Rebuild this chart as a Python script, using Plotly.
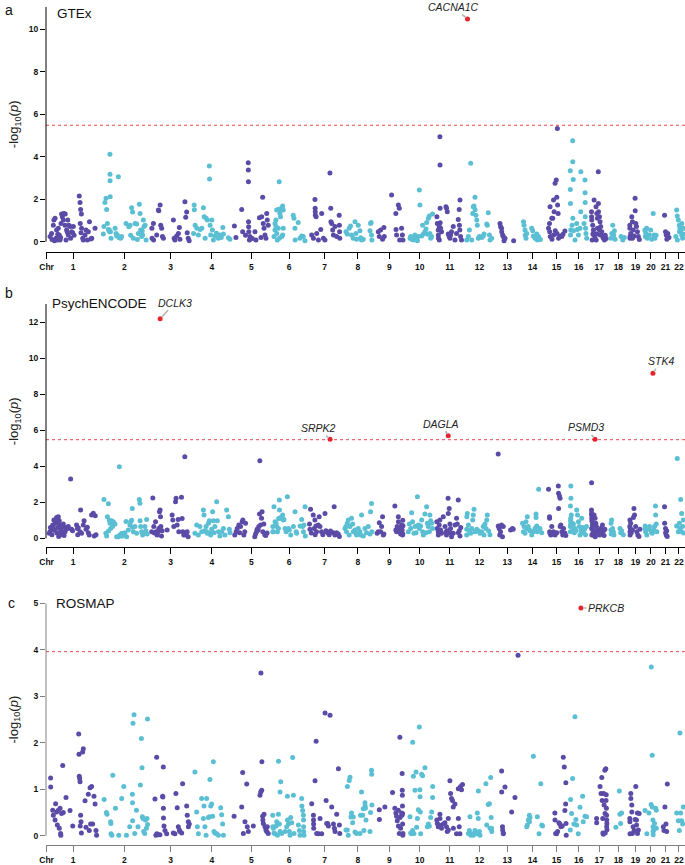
import plotly.graph_objects as go

# ---------------- data ----------------
CHR_LABELS = [str(i) for i in range(1, 23)]
CHR_LEN_MB = [249.3, 243.2, 198.0, 191.2, 180.9, 171.1, 159.1, 146.4, 141.2, 135.5, 135.0,
              133.9, 115.2, 107.3, 102.5, 90.4, 81.2, 78.1, 59.1, 63.0, 48.1, 51.3]
GAP_MB = 20

# (position in Mb within chromosome, -log10 p) per chromosome 1..22
GTEX_BY_CHR = [
    [(5,0.24),(13,0.39),(15,0.10),(22,0.78),(25,1.02),(28,0.05),(31,1.10),(36,0.16),(39,0.55),(43,0.08),(45,0.35),(48,0.63),(53,0.31),(57,0.08),(60,0.20),(62,0.86),(65,1.30),(69,1.18),(74,1.02),(77,1.33),(83,0.78),(84,1.30),(88,0.08),(91,0.55),(95,0.45),(97,1.02),(100,0.31),(103,0.78),(109,0.71),(112,0.16),(117,0.47),(123,0.42),(126,0.71),(130,0.30),(157,2.15),(161,1.84),(162,0.86),(164,1.52),(166,0.42),(168,1.30),(169,0.63),(175,0.16),(178,0.08),(187,0.31),(192,0.55),(199,0.08),(204,0.47),(210,0.94),(217,0.13),(222,0.16),(239,0.63)],
    [(13,0.36),(16,0.71),(21,1.85),(27,2.04),(30,1.52),(34,0.86),(39,0.58),(44,0.55),(45,0.47),(47,4.11),(47.5,3.17),(48,2.87),(48.5,2.12),(50,0.47),(53,0.16),(74,0.63),(79,0.39),(82,0.27),(86,0.31),(91,3.06),(96,0.19),(103,0.16),(108,0.24),(131,0.86),(145,0.70),(152,0.78),(155,0.30),(160,1.60),(165,1.40),(169,0.16),(178,0.86),(186,0.83),(190,0.10),(195,0.39),(200,1.76),(204,1.33),(207,0.55),(212,0.24),(215,0.50),(217,0.31),(221,1.02),(224,0.71),(230,0.78),(235,0.08)],
    [(2,0.63),(3,0.16),(10,0.86),(11,0.08),(27,0.31),(36,1.49),(38,1.46),(45,1.73),(48,0.78),(53,0.63),(57,0.24),(62,0.16),(114,1.02),(118,0.16),(122,0.08),(131,0.27),(140,0.39),(145,0.67),(148,0.11),(174,1.88),(178,1.15),(183,1.40),(186,0.42),(191,0.16),(196,0.05)],
    [(1,0.39),(4,1.73),(5,1.50),(9,0.78),(18,0.63),(26,0.31),(35,0.58),(44,0.63),(52,1.60),(56,1.18),(61,0.16),(66,1.10),(73,1.02),(83,3.56),(84,2.95),(87,0.78),(90,0.31),(96,1.02),(99,0.55),(104,0.08),(113,0.27),(120,0.40),(130,0.16),(139,0.31),(145,0.20),(153,0.67),(156,0.36),(182,0.19),(190,0.11)],
    [(2,0.74),(10,0.20),(40,1.52),(45,0.47),(60,0.30),(74,3.72),(74.5,3.37),(75,2.82),(75.5,0.94),(76,0.70),(77,0.47),(80,0.08),(83,0.24),(95,0.15),(109,0.47),(114,0.08),(132,1.13),(140,0.20),(144,1.18),(149,2.09),(152,0.86),(156,0.63),(161,0.31),(166,0.16),(170,1.33),(173,1.02),(178,0.78)],
    [(7,0.24),(12,0.55),(12.5,0.86),(17,1.02),(17.5,0.71),(21,1.49),(21.5,0.39),(24,0.08),(29,1.52),(29.5,0.63),(34,2.82),(34.5,1.49),(35,0.16),(38,1.33),(41,1.18),(47,1.60),(47.5,0.24),(52,1.68),(52.5,0.31),(55,1.49),(55.5,0.63),(107,1.25),(111,1.10),(116,0.63),(117,0.08),(133,0.90),(142,0.16),(151,0.27),(159,0.24),(168,0.05)],
    [(12,0.31),(21,0.16),(29,1.99),(30,1.57),(30.5,1.41),(31,1.25),(35,1.18),(38,0.39),(47,0.08),(59,0.58),(64,1.33),(73,0.16),(81,0.08),(107,3.23),(111,1.57),(112,0.94),(116,0.86),(121,0.55),(125,0.31),(133,0.71),(142,0.24),(155,1.25),(156,0.78),(157,0.47),(158,0.16)],
    [(11,0.47),(18,0.36),(28,0.63),(35,0.74),(40,0.31),(49,0.16),(58,0.94),(63,0.39),(66,0.11),(75,0.78),(84,0.52),(87,0.19),(92,0.08),(101,0.11),(136,0.52),(139,0.86),(142,0.90),(144,0.31),(146,0.08)],
    [(13,0.47),(18,0.24),(25,0.55),(35,0.11),(42,0.67),(44,0.24),(82,2.20),(104,1.33),(105,0.58),(108,0.31),(117,1.73),(122,1.57),(124,0.08),(134,0.63),(138,0.31),(141,0.08)],
    [(17,0.16),(20,0.24),(25,0.11),(30,0.16),(34,0.08),(42,0.31),(48,0.16),(55,0.05),(60,0.24),(65,2.43),(68,1.73),(77,0.27),(82,0.78),(86,0.36),(94,0.47),(100,0.60),(103,0.90),(108,0.35),(112,1.10),(117,1.21),(120,0.39),(124,0.16),(129,0.24),(134,1.30)],
    [(1,1.18),(3,0.86),(8,0.55),(8.5,0.31),(9,0.16),(13,0.71),(13.5,0.08),(16.6,4.94),(17,3.61),(17.5,1.57),(18,0.89),(20,0.63),(25,0.47),(48,1.65),(51,1.57),(55,1.41),(60,0.36),(65,0.24),(69,0.16),(72,0.31),(77,0.47),(86,0.71),(95,0.08),(103,0.39),(112,1.05),(117,1.52),(118,0.78),(120,0.55),(121,1.96),(124,0.24),(129,0.08)],
    [(1,0.08),(9.5,0.24),(15,0.55),(21.6,3.69),(27,0.08),(32,1.33),(35,1.65),(39,1.68),(44,2.09),(44.5,1.50),(49,1.25),(53,1.02),(56,0.78),(61,0.16),(67,0.24),(79,0.20),(87,0.27),(91,0.36),(105,0.83),(108,0.78),(113,1.36),(119,0.31),(122,0.08),(131,0.16)],
    [(20,0.86),(23,0.71),(28,0.63),(29,0.47),(34,0.31),(37,0.24),(41,0.05),(46,0.16),(91,0.05)],
    [(7,0.94),(10,0.78),(15,0.55),(16,0.31),(20,0.16),(24,0.39),(50,0.63),(55,0.52),(58,0.27),(67,0.16),(76,0.36),(79,0.08),(85,0.24),(95,0.10)],
    [(10,0.63),(15,0.86),(16,0.47),(18,1.65),(19,0.24),(27,1.10),(28,0.11),(32,1.10),(36,1.96),(36.5,0.31),(39,1.41),(44,2.75),(45,0.52),(50,2.90),(53,2.09),(54,0.39),(56,5.33),(57,1.73),(60,1.33),(62,0.16),(70,0.27),(79,0.24),(85,0.35),(95,0.50)],
    [(0.5,3.34),(1,2.46),(1.5,1.80),(2,0.31),(3,0.55),(10,0.78),(13,4.75),(13.5,3.76),(14,1.10),(16,2.93),(17,0.52),(25,0.08),(34,0.86),(37,0.58),(43,0.31),(51,0.63),(55,1.41),(55.5,3.29),(72,0.86),(77,2.90),(77.5,2.30),(78,1.84),(78.5,1.18),(80,0.63),(82,0.39),(86,0.16)],
    [(0.5,1.41),(1,1.18),(1.7,1.02),(4,0.08),(6.9,0.78),(8,0.36),(10.4,0.55),(13.9,0.31),(14,1.96),(19,0.16),(21,0.36),(24,1.65),(25,0.08),(28,1.33),(29,0.36),(31,1.10),(31.5,0.63),(36,3.29),(36.5,1.80),(37,1.41),(42,1.18),(42.5,0.55),(45,0.94),(46,0.31),(48.5,0.71),(54,0.47),(59,0.24),(62,0.16),(68,0.08),(72,0.30),(77,0.15)],
    [(1,0.16),(4.7,0.39),(10,0.78),(15,0.31),(18.5,0.52),(22,0.11),(53,0.24),(62,0.08),(70,0.20)],
    [(0.5,0.78),(1,0.63),(1.5,0.16),(2,0.24),(5.6,0.39),(10.8,1.18),(14,0.94),(14.5,0.16),(18,0.55),(23,0.27),(28,2.04),(28.5,1.46),(31.5,0.86),(35,0.71),(40,0.47),(45,0.24),(50,0.10)],
    [(0.5,0.55),(1,0.52),(2,0.24),(5,0.39),(8.7,0.63),(12,0.16),(22.5,0.31),(29.5,0.55),(35,0.11),(43,1.33),(47,0.31),(52,0.16),(58,0.30)],
    [(19,1.25),(24,0.47),(27.6,0.31),(31,0.11),(36,0.39),(42,0.20)],
    [(10,0.24),(14,1.49),(17,1.21),(17.5,0.08),(22.5,1.02),(28,0.78),(28.5,0.47),(31,0.63),(35,0.52),(40,0.31),(40.5,0.86),(45,0.16),(48.5,0.36),(49,0.63)],
]

PSYCH_BY_CHR = [
    [(1,0.28),(5,0.37),(7,0.60),(13,0.55),(15,0.20),(19,0.74),(22,0.68),(25,1.02),(28,0.45),(31,0.46),(34,0.90),(36,0.83),(39,1.16),(41,0.30),(43,1.10),(46,0.60),(48,1.20),(50,0.10),(53,0.98),(57,0.74),(60,0.46),(62,0.20),(65,0.37),(71,0.61),(74,0.79),(78,0.15),(83,0.37),(88,0.50),(91,0.61),(97,0.55),(100,0.65),(112,3.29),(117,0.50),(122,0.42),(143,0.74),(147,0.55),(149,0.20),(152,0.58),(161,0.37),(164,1.57),(169,0.28),(178,0.74),(182,0.98),(192,0.50),(199,0.61),(204,0.31),(209,0.18),(221,1.29),(230,1.39),(235,0.13),(240,1.25),(244,0.20)],
    [(16,2.16),(26,0.28),(30,0.13),(34,1.20),(39,1.92),(40,0.40),(44,1.00),(47.5,0.83),(51,0.55),(56,0.98),(61,0.65),(65,0.92),(73.5,0.79),(82,0.09),(91,0.09),(96,3.98),(99,0.18),(103,0.13),(108,0.28),(113,0.13),(125,0.31),(130.5,0.94),(134,0.09),(143,0.46),(151,0.74),(155,0.92),(160,1.00),(163.5,1.65),(165,0.61),(169,0.37),(177,0.65),(186,0.28),(200,2.15),(203,1.95),(204,0.98),(207,0.65),(212,0.37),(217,0.18),(221,0.28),(229,0.65),(234,0.42),(238,1.05),(241,0.24)],
    [(1,0.37),(7,2.24),(12,0.65),(15,0.30),(21,0.92),(24,0.37),(29.5,0.18),(35,0.37),(38,0.55),(41.6,1.48),(45,1.57),(47,1.20),(48.5,0.65),(52,0.13),(55.5,0.42),(81.5,0.46),(107.5,1.29),(111,1.02),(116,0.65),(125,2.03),(128,2.22),(133.5,0.74),(139,1.05),(142,0.37),(156,2.28),(159.5,1.10),(163,0.37),(168,0.18),(173.4,4.53),(177,0.28),(180,0.18),(185.5,0.37),(190.7,0.09)],
    [(8,0.28),(17,0.74),(26,0.18),(34,0.65),(43,0.37),(52,1.57),(55,1.29),(57,0.40),(60,0.42),(66,0.65),(69,0.37),(72.5,0.28),(78,0.83),(83,0.98),(86,0.28),(90,0.18),(95,0.50),(100,1.48),(104,0.98),(107,0.31),(112,0.65),(121,2.03),(124.5,0.98),(130,0.37),(138,0.13),(147,0.37),(156,0.55),(164,0.18),(173,1.57),(182,1.20),(187,0.50),(190,0.31)],
    [(4,0.18),(11,0.37),(16.5,0.55),(25,0.74),(29,0.31),(34,0.65),(42.5,0.92),(46,1.02),(51,0.18),(56,0.37),(60,0.83),(108,0.09),(112,0.24),(117,0.37),(120,0.50),(126,0.46),(129,0.65),(132.6,1.35),(134.3,4.31),(138,0.74),(143,1.11),(146,1.48),(150,0.37),(155,0.80),(160,0.20),(165,0.15),(172,0.30)],
    [(0.5,0.37),(1,0.65),(4,0.37),(7,1.75),(12.5,0.92),(18,0.83),(21,0.65),(25,0.37),(30,0.55),(31,1.10),(35,2.13),(35.5,1.57),(38.5,1.11),(42,1.16),(47,1.11),(52,1.29),(56,1.02),(59,1.05),(64.5,0.55),(70,0.37),(76.6,2.31),(82,0.55),(87,0.46),(94,0.18),(108,0.65),(116.5,1.48),(122,0.37),(125,0.28),(142.5,0.68),(151,1.05),(156,0.65),(160,0.37),(163,0.74),(168.5,1.75),(170,0.13)],
    [(0.5,0.80),(3,0.50),(6,1.62),(10,0.30),(20,1.29),(25,0.55),(28.6,1.02),(30,0.20),(34,0.68),(37,0.37),(46,0.74),(51,1.20),(55,0.65),(63,0.37),(70,0.20),(81,1.38),(86,0.42),(89,0.37),(98,0.28),(103,0.20),(110,0.40),(124,0.31),(129,1.76),(132.6,0.18),(141,0.31),(150,0.24),(156,0.10)],
    [(6,0.55),(11,0.65),(14,0.37),(18,0.83),(23,1.02),(28,0.18),(32,0.65),(40,1.11),(46,0.79),(49,0.37),(58,0.46),(63,0.28),(66,0.18),(75,0.55),(84,0.37),(87,0.18),(92,1.29),(101,0.13),(110,0.55),(118,0.31),(127,0.65),(136,0.24),(139,1.48),(144,1.94),(146,0.37)],
    [(7,0.28),(12.6,0.37),(18,0.87),(25,0.37),(30,0.65),(35,1.20),(38.6,0.18),(42,0.24),(99,1.79),(104,0.46),(108,0.37),(111,0.65),(117,1.20),(117.5,0.92),(122,0.55),(125,0.37),(129,0.24),(134,0.74),(137,0.46),(139,0.18),(140,1.00),(140.5,0.24),(141,0.70)],
    [(8,0.37),(13,0.79),(20,0.55),(25,1.42),(30,0.92),(37,0.28),(42.5,0.65),(48,0.31),(55,2.31),(60,0.74),(65,0.55),(72,0.68),(77,1.02),(82,0.37),(86,0.18),(94,1.35),(100,0.31),(103,1.75),(107,0.83),(112,0.65),(117,0.37),(120,1.29),(124,0.98),(129,0.83),(134,0.55)],
    [(0.5,0.92),(3,0.55),(8,0.37),(8.5,0.18),(13,0.74),(16.6,1.02),(20,0.46),(25,0.28),(34,1.20),(43,0.65),(48,0.37),(51,0.18),(55,0.42),(59,2.22),(60,1.38),(65,1.66),(68.6,0.79),(69,0.31),(72,0.55),(77,0.09),(86,0.28),(95,0.74),(103,1.11),(107,0.79),(112,2.13),(112.5,0.31),(117,0.42),(121,0.13),(125,0.60)],
    [(0.5,0.18),(1,0.50),(1.5,1.20),(4,1.38),(9.5,0.74),(15,0.42),(22,0.28),(27,0.55),(32,1.02),(35,1.29),(39,1.61),(44,0.37),(53,0.50),(61,0.42),(70,0.28),(79,0.37),(87,0.65),(91,0.18),(96,0.79),(101,0.55),(105,1.02),(108,1.29),(115,0.40),(122,0.20)],
    [(10.7,4.68),(11,0.68),(16,0.55),(19,0.18),(23,0.37),(28,0.74),(33,0.09),(37,0.65),(75,0.46),(85,0.55),(89,0.50)],
    [(2,0.83),(6.6,0.37),(10,0.65),(15,0.28),(20,0.92),(24,0.55),(27,1.20),(32,0.65),(38,0.46),(41,0.42),(50,0.18),(58,0.37),(67,0.55),(72,1.35),(72.5,1.16),(76,0.68),(79,0.37),(86,2.72),(93,0.55),(102,0.31)],
    [(10,2.72),(15,1.20),(15.5,1.11),(16,0.37),(18,0.28),(22,0.18),(27,0.65),(36,0.37),(44,0.18),(53,0.31),(61,2.90),(62,2.50),(62.5,1.66),(67,2.35),(70,2.22),(70.5,0.65),(74,0.74),(79,0.37),(84,0.18),(88,0.55),(95,0.30),(100,0.15)],
    [(0.5,0.37),(1,0.65),(1.5,1.79),(2,0.98),(2.5,0.79),(3,1.11),(3.5,2.90),(4,2.22),(6,1.29),(10,0.83),(14,0.55),(17,0.79),(22,0.31),(25,0.55),(30,0.42),(34,1.57),(38,1.29),(43,0.92),(48,0.65),(51,0.18),(56,0.42),(60,1.11),(65,0.60),(70,0.30),(75,0.50),(80,0.20),(85,0.65)],
    [(0.5,1.57),(0.8,1.29),(1,3.09),(1.2,1.39),(1.5,0.55),(2,1.11),(2.5,0.18),(3,0.98),(4,0.92),(5,0.74),(6,0.50),(8,0.28),(9,0.18),(10,0.37),(14,1.29),(14.5,0.31),(19,1.11),(19.5,0.09),(23,0.83),(26,0.65),(27,0.37),(31.5,0.46),(32,0.20),(37,0.24),(40,0.37),(43.6,0.18),(49,0.55),(54,0.28),(57.5,0.74),(62,0.40),(66,0.15),(70,0.50)],
    [(0.5,0.46),(1,0.83),(2,0.24),(4,1.02),(9,0.55),(13,0.37),(16,0.18),(47.5,0.55),(51,0.31),(56,0.42),(65,0.20)],
    [(0.5,0.65),(1,1.02),(1.5,0.37),(2,0.18),(3,0.55),(5,0.83),(8,0.31),(14,0.46),(19,1.16),(22,1.66),(25,1.29),(31,0.65),(37,0.37),(42,0.18),(48,0.10),(53,0.50)],
    [(0.5,0.55),(1,0.68),(3.5,0.37),(10,0.18),(21,0.50),(24,0.65),(33,0.37),(38,0.28),(45,0.46),(50,0.65),(55,1.79),(55.5,1.29),(59,0.79),(62,0.37)],
    [(19,1.75),(19.5,0.83),(24,0.55),(24.5,0.31),(27.6,0.18),(30,0.42),(33,0.10)],
    [(14,0.68),(17,4.44),(22.5,0.37),(28,0.83),(31,0.55),(35,2.16),(40,1.38),(40.5,0.37),(45,0.65),(48.5,1.02),(50,0.30)],
]

ROSMAP_BY_CHR = [
    [(8,1.24),(8.5,1.05),(19,0.55),(22,0.44),(31,0.34),(34,0.69),(39,0.51),(43,0.23),(48,0.55),(53,0.16),(57,0.59),(60,0.05),(61,0.01),(65,0.48),(71,1.51),(74,0.50),(88,0.82),(109,0.54),(123,0.21),(154,2.19),(155.5,1.75),(157,1.28),(159,1.23),(161,1.16),(162,0.21),(164,0.44),(166,0.30),(168,0.06),(174.5,1.80),(178,1.87),(187,0.75),(192,0.18),(204,0.89),(209,0.11),(213,1.03),(216,0.25),(221,1.06),(226.5,0.25),(233.5,0.85),(239,0.68),(244,0.11),(247,0.01)],
    [(17,0.78),(29,0.50),(32,0.46),(51,0.30),(52,0.26),(53,0.04),(57,0.01),(62,1.30),(76,0.59),(93,0.01),(108.5,0.80),(119,1.06),(133,0.01),(150,0.19),(164,0.89),(164.5,0.71),(165,0.32),(167,2.42),(172.6,2.60),(176,0.05),(185,0.55),(193,0.19),(205.5,1.09),(210.7,2.09),(214,1.46),(216,0.41),(219,0.37),(223,0.09),(228,0.05),(231.5,0.34),(236.7,0.16),(240,0.37),(242.5,2.51),(243,0.24)],
    [(18,0.79),(23,0.01),(27,1.69),(28,0.04),(36,0.02),(44,0.02),(58,0.85),(59,0.83),(61.5,1.48),(62,0.59),(62.5,0.38),(65,0.21),(70,0.11),(79,0.04),(113.5,0.06),(122,0.04),(127,0.91),(134,0.60),(139.5,0.19),(145,0.12),(148,0.09),(157,0.06),(162,1.12),(183,0.64),(186,0.44),(191.5,0.30),(192,0.19),(196.7,0.25)],
    [(8,1.37),(17,0.51),(20.5,0.19),(26,0.04),(43,0.80),(52,0.37),(55,0.64),(60,0.19),(66,0.01),(69,0.80),(78,0.39),(83,0.41),(86,1.21),(90,0.64),(95,0.68),(100,0.42),(104,1.59),(107,0.09),(112,0.06),(121,0.04),(130,0.01),(142,0.60),(147,0.45),(152,0.25),(156,0.01)],
    [(0.5,0.42),(40,0.62),(45,1.36),(48.5,0.05),(57,0.30),(66,1.11),(69,0.19),(74.5,0.09),(100.5,0.21),(135,0.87),(139,0.94),(140,3.50),(144,0.98),(145,1.59),(149,0.42),(150,0.34),(152.5,0.26),(156,0.46),(161,0.19),(166,0.12),(170,0.09),(173,0.19),(178,0.05)],
    [(0.5,0.44),(1,0.19),(4,0.16),(7,0.06),(12.5,0.04),(18,0.21),(21,0.30),(25,0.01),(30,0.46),(30.5,1.60),(35,0.25),(38.5,0.94),(39,0.09),(42,1.16),(47,0.05),(64.5,0.09),(73,0.19),(76.6,0.85),(77,0.34),(82,0.25),(87,0.09),(90.5,0.01),(94,0.39),(99,0.28),(104,1.68),(108,0.87),(111,0.05),(134,0.23),(139,0.11),(142.5,0.01),(151,0.80),(152,0.64),(156,0.54),(160,0.44),(160.5,0.34),(161,0.19),(161.5,0.09),(163,0.01)],
    [(12,0.69),(21,0.44),(21.5,0.34),(22,0.25),(22.5,0.16),(29.5,1.18),(35,2.03),(38,0.05),(47,0.04),(55.5,0.37),(64,0.04),(81.5,2.64),(87,0.76),(90,0.26),(95,0.26),(99,0.21),(107.4,2.59),(116,0.62),(125,0.25),(130,0.16),(133.5,0.09),(142,0.46),(151,1.44),(156,0.23),(158,0.05)],
    [(11,0.12),(18,0.12),(18.5,1.06),(23,0.01),(28,1.19),(32,1.26),(37,0.40),(40,0.49),(46,0.28),(49,0.40),(58,0.08),(66,0.05),(84,0.05),(87,0.44),(92,0.94),(98,0.44),(101,0.58),(104.5,0.11),(110,0.71),(111,0.64),(112,0.59),(115,0.34),(136,0.09),(139,0.50),(144,1.41),(145,1.32),(146,0.66)],
    [(18,0.56),(18.5,0.35),(47,0.62),(87,0.93),(99,0.59),(104.5,0.49),(108,0.42),(111.5,0.32),(117,0.55),(117.5,0.21),(122,0.05),(125,2.12),(126,0.39),(129,0.16),(134,0.49),(136,0.44),(137,1.34),(137.5,0.98),(138,0.87),(138.5,0.64),(139,0.48),(139.5,0.25),(140,0.01),(141,0.05)],
    [(16.6,0.41),(20,0.06),(25,0.04),(30,0.11),(30.5,2.01),(34,1.28),(37,0.05),(42.5,0.98),(48,1.37),(51,0.18),(55,0.37),(60,0.56),(65,2.34),(68,0.99),(69,0.84),(70,0.51),(72,0.04),(77,1.32),(82,1.29),(94,1.46),(107,0.19),(112,0.25),(117,0.21),(124,0.39),(129,0.51),(134,0.82),(134.5,1.06)],
    [(0.5,0.34),(3,0.26),(8,0.19),(13,0.23),(16.6,0.46),(17,0.37),(20,0.21),(25,0.16),(34,0.25),(42.6,0.28),(51,0.19),(55,0.09),(60,0.37),(60.5,0.12),(68.6,1.18),(72,0.91),(77,0.80),(82,0.76),(86,0.62),(86.5,0.16),(94.6,0.68),(103,0.04),(112,1.01),(112.5,0.37),(117,0.19),(120.6,0.04),(124,1.06),(129,0.99),(134,1.10)],
    [(9.5,0.05),(15,0.11),(18,0.41),(22,0.01),(27,0.04),(35,0.01),(44,0.11),(49,0.06),(53,0.04),(56,0.49),(61,0.37),(61.5,0.96),(67,0.09),(70,0.01),(101,1.12),(105,0.23),(113,0.67),(119,0.69),(122,0.16),(125.5,1.25),(128,0.39),(130,0.16),(131,0.09)],
    [(28.6,1.39),(29,0.94),(33,0.19),(34,0.12),(37,0.06),(37.5,0.04),(46,1.05),(80.6,0.51),(98,0.82),(114,3.88)],
    [(24,0.19),(27,0.23),(32.5,0.34),(37.7,0.44),(38,0.30),(41,0.39),(58.5,1.71),(79,0.41),(88,0.04),(97,1.12),(102,0.23),(106,0.21)],
    [(43,0.49),(43.5,0.34),(47,0.05),(52,0.04),(57,0.09),(64,0.28),(69,0.25),(74.5,0.19),(81.5,0.21),(86.7,1.69),(92,1.48),(95,0.54),(99,0.68),(100,1.14),(101,0.26),(102,0.01)],
    [(0.5,0.12),(2.3,0.78),(7.5,0.48),(12.7,1.23),(19.6,0.25),(24.8,2.56),(30,0.35),(33.5,0.23),(42,0.04),(51,0.61),(64.7,0.85),(68,0.30),(77,0.42),(85.5,0.41)],
    [(27,0.37),(27.5,0.28),(45,1.06),(50,0.91),(54,1.25),(56,0.76),(59,0.37),(60,0.06),(62,0.03),(64,0.91),(66,0.66),(70,1.41),(71,0.48),(72,0.06),(75,1.44),(76,0.76),(77,0.88),(78,0.59),(79,0.44),(79.5,0.19),(80,0.34),(80.5,0.26),(81,0.13)],
    [(26,0.18),(44,0.96),(47,0.46),(50.6,0.26),(56,0.49)],
    [(0.5,0.37),(1,0.30),(1.5,0.04),(5.6,0.91),(6,0.80),(10.8,0.66),(11,0.51),(14,0.05),(17.7,0.19),(23,0.11),(28,0.35),(31.5,1.06),(35,0.34),(35.5,0.23),(40,0.49),(40.5,0.05),(45,0.12),(49,0.48)],
    [(0.5,0.54),(10,0.04),(21,0.49),(32,0.67),(33,3.63),(38,1.73),(38.5,0.62),(41.6,0.34),(42,0.19),(42.5,0.09),(43,0.02),(45,0.12),(50,0.26),(55.5,0.59),(59,0.55),(59.5,0.16)],
    [(12.5,0.19),(16,0.11),(21,0.62),(26.5,0.25),(30,0.09),(33.5,1.11)],
    [(14,0.49),(22.5,0.32),(28,0.11),(31,2.21),(35,0.49),(40,0.32),(45,0.25),(48.5,0.62)],
]

# significant genes: (gene, chromosome, position Mb, -log10 p)
GTEX_HITS = [("CACNA1C", 12, 5.0, 10.48)]
PSYCH_HITS = [("DCLK3", 3, 45.0, 12.20), ("SRPK2", 7, 107.6, 5.51), ("DAGLA", 11, 59.8, 5.70),
              ("PSMD3", 17, 18.7, 5.50), ("STK4", 20, 41.6, 9.17)]
ROSMAP_HITS = [("PRKCB", 16, 56.0, 4.90)]

THRESHOLDS = [5.48, 5.48, 3.96]
PANEL_NAMES = ["GTEx", "PsychENCODE", "ROSMAP"]
PANEL_LETTERS = ["a", "b", "c"]
Y_TICKS = [[0, 2, 4, 6, 8, 10], [0, 2, 4, 6, 8, 10, 12], [0, 1, 2, 3, 4, 5]]
Y_MAX = [11.06, 13.02, 5.0]

# ---------------- layout / style ----------------
W, H = 685, 865
PURPLE = "#5b4ba7"
CYAN = "#5bbfd3"
RED = "#e8232b"
LINE_RED = "#e8474c"
FONT = "Liberation Sans, Arial, sans-serif"
TICK_FONT = dict(family="Liberation Sans Narrow, Arial Narrow, Liberation Sans, Arial", size=8.5,
                 color="#111111", weight="bold")
# pixel geometry of each panel: top of y axis, y=0, x-axis line
PANEL_PX = [(6.7, 241.7, 251.7), (304.0, 538.3, 546.7), (603.3, 835.7, 845.0)]
AXIS_COLORS = ["#000000", "#000000", "#808080"]
X_LEFT_PX = 46
X_MIN, X_MAX = -16, 3307
LABEL_OFFSETS = {"CACNA1C": (-14, -12), "DCLK3": (15, -16), "SRPK2": (-12, -11),
                 "DAGLA": (-7, -12), "PSMD3": (-9, -12), "STK4": (8, -12), "PRKCB": (25, 0)}
TITLE_POS = [(55, 14), (50, 303), (54, 603)]
LETTER_POS = [(9, 0, "top"), (9, 293, "middle"), (11, 603, "middle")]

offsets, acc = [], 0.0
for L in CHR_LEN_MB:
    offsets.append(acc)
    acc += L + GAP_MB
mids = [o + L / 2 for o, L in zip(offsets, CHR_LEN_MB)]

fig = go.Figure()
layout = dict(width=W, height=H, margin=dict(l=0, r=0, t=0, b=0, pad=0),
              paper_bgcolor="white", plot_bgcolor="white",
              font=dict(family=FONT, color="#111111"), showlegend=False)
shapes, annotations = [], []

datasets = [(GTEX_BY_CHR, GTEX_HITS), (PSYCH_BY_CHR, PSYCH_HITS), (ROSMAP_BY_CHR, ROSMAP_HITS)]

for i, (by_chr, hits) in enumerate(datasets):
    s = "" if i == 0 else str(i + 1)
    xref, yref = "x" + s, "y" + s
    top_px, zero_px, axis_px = PANEL_PX[i]
    ppu = (zero_px - top_px) / Y_MAX[i]
    y_min = -(axis_px - zero_px) / ppu
    axcol = AXIS_COLORS[i]

    for parity, color in ((1, PURPLE), (0, CYAN)):
        xs, ys = [], []
        for c, pts in enumerate(by_chr):
            if (c + 1) % 2 != parity:
                continue
            for pos, lp in pts:
                xs.append(offsets[c] + pos)
                ys.append(lp)
        fig.add_trace(go.Scatter(x=xs, y=ys, mode="markers", xaxis=xref, yaxis=yref,
                                 marker=dict(size=5, color=color, line=dict(width=0)),
                                 hoverinfo="skip"))
    hx = [offsets[c - 1] + p for _, c, p, _ in hits]
    hy = [lp for _, _, _, lp in hits]
    fig.add_trace(go.Scatter(x=hx, y=hy, mode="markers", xaxis=xref, yaxis=yref,
                             marker=dict(size=5, color=RED, line=dict(width=0)), hoverinfo="skip"))
    for (gene, c, p, lp), x in zip(hits, hx):
        ax, ay = LABEL_OFFSETS[gene]
        annotations.append(dict(x=x, y=lp, xref=xref, yref=yref, text="<i>%s</i>" % gene,
                                showarrow=True, ax=ax, ay=ay, arrowhead=0, arrowwidth=1.6,
                                arrowcolor="#b4b4b4", standoff=2, startstandoff=0,
                                font=dict(family=FONT, size=10.5, color="#222222")))

    layout["xaxis" + s] = dict(domain=[X_LEFT_PX / W, 1], range=[X_MIN, X_MAX], anchor=yref,
                               tickmode="array", tickvals=[X_MIN + 3] + mids,
                               ticktext=["Chr"] + CHR_LABELS, ticks="outside", ticklen=6,
                               tickwidth=1, tickcolor=axcol, showline=True, linecolor=axcol,
                               linewidth=1, showgrid=False, zeroline=False, tickfont=TICK_FONT,
                               ticklabelstandoff=1, automargin=False, fixedrange=True)
    layout["yaxis" + s] = dict(domain=[1 - axis_px / H, 1 - top_px / H], range=[y_min, Y_MAX[i]],
                               anchor=xref, tickmode="array", tickvals=Y_TICKS[i], ticks="outside",
                               ticklen=5, tickwidth=1, tickcolor=axcol, showline=False,
                               showgrid=False, zeroline=False, tickfont=TICK_FONT,
                               automargin=False, fixedrange=True)
    shapes.append(dict(type="line", xref=xref + " domain", yref=yref, x0=0, x1=0, y0=0,
                       y1=Y_MAX[i], line=dict(color=axcol, width=1)))
    shapes.append(dict(type="line", xref=xref + " domain", yref=yref, x0=0, x1=1,
                       y0=THRESHOLDS[i], y1=THRESHOLDS[i],
                       line=dict(color=LINE_RED, width=1, dash="dot"), layer="below"))

    tx, ty = TITLE_POS[i]
    annotations.append(dict(x=tx / W, y=1 - ty / H, xref="paper", yref="paper", text=PANEL_NAMES[i],
                            showarrow=False, xanchor="left", yanchor="middle",
                            font=dict(family=FONT, size=13.5, color="#111111")))
    lx, ly, lanchor = LETTER_POS[i]
    annotations.append(dict(x=lx / W, y=1 - ly / H, xref="paper", yref="paper", text=PANEL_LETTERS[i],
                            showarrow=False, xanchor="center", yanchor=lanchor,
                            font=dict(family=FONT, size=14, color="#111111")))
    annotations.append(dict(x=14 / W, y=1 - ((top_px + zero_px) / 2) / H, xref="paper", yref="paper",
                            text="-log<sub>10</sub>(<i>p</i>)", textangle=-90, showarrow=False,
                            xanchor="center", yanchor="middle",
                            font=dict(family=FONT, size=13, color="#222222")))

layout["shapes"] = shapes
layout["annotations"] = annotations
fig.update_layout(**layout)
fig.write_html("out.html", config={"displayModeBar": False},
               post_script="document.body.style.margin='0';document.body.style.padding='0';")
